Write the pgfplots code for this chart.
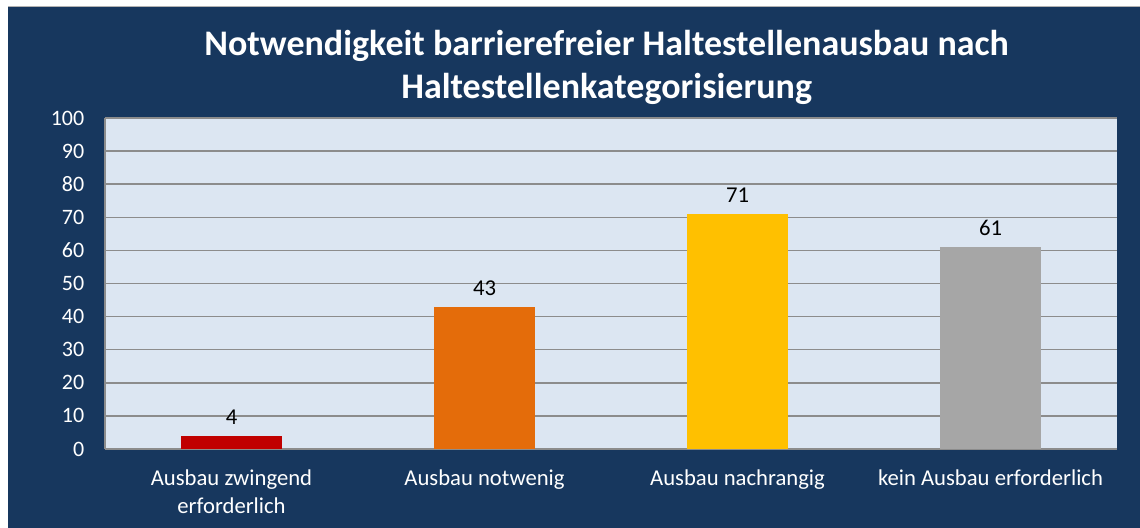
\documentclass[border=0pt]{standalone}
\usepackage{pgfplots}
\pgfplotsset{compat=1.18}
\usepackage{fontspec}
\setmainfont{Carlito}
\definecolor{navy}{HTML}{17375E}
\definecolor{plotbg}{HTML}{DCE6F2}
\definecolor{gridc}{HTML}{8C8C8C}
\definecolor{cA}{HTML}{C00000}
\definecolor{cB}{HTML}{E46C0A}
\definecolor{cC}{HTML}{FFC000}
\definecolor{cD}{HTML}{A6A6A6}
\begin{document}
\begin{tikzpicture}
\fill[white] (0pt,0pt) rectangle (855pt,396pt);
\fill[navy] (6pt,0pt) rectangle (855pt,390.75pt);
\draw[gray!60, line width=0.75pt] (6pt,390.75pt) -- (855pt,390.75pt);
\node[text=white, font=\fontsize{27}{32}\selectfont\bfseries, align=center] at (455pt,345.5pt) {Notwendigkeit barrierefreier Haltestellenausbau nach\\Haltestellenkategorisierung};
\begin{axis}[
  at={(78.75pt,59.25pt)}, anchor=south west,
  scale only axis, width=759pt, height=248.25pt,
  xmin=-0.5, xmax=3.5, ymin=0, ymax=100,
  ytick={0,10,...,100},
  xtick={0,1,2,3},
  xticklabels={{Ausbau zwingend\\erforderlich},{Ausbau notwenig},{Ausbau nachrangig},{kein Ausbau erforderlich}},
  xticklabel style={align=center, text=white, font=\fontsize{17}{21}\selectfont, yshift=-12pt},
  yticklabel style={text=white, font=\fontsize{16.5}{18}\selectfont, xshift=-12pt},
  /pgf/number format/assume math mode=true,
  major tick length=0pt,
  ymajorgrids, grid style={gridc, line width=1.1pt},
  axis background/.style={fill=plotbg},
  axis line style={gridc, line width=1pt},
  axis x line*=bottom, axis y line*=left,
  ybar, bar width=0.4, bar shift=0pt,
  nodes near coords,
  nodes near coords style={text=black, font=\fontsize{17}{18}\selectfont, yshift=5pt},
  every node near coord/.append style={/pgf/number format/assume math mode=true},
]
\addplot[fill=cA, draw=none] coordinates {(0,4)};
\addplot[fill=cB, draw=none] coordinates {(1,43)};
\addplot[fill=cC, draw=none] coordinates {(2,71)};
\addplot[fill=cD, draw=none] coordinates {(3,61)};
\end{axis}
\pgfresetboundingbox
\useasboundingbox (0pt,0pt) rectangle (855pt,396pt);
\end{tikzpicture}
\end{document}
